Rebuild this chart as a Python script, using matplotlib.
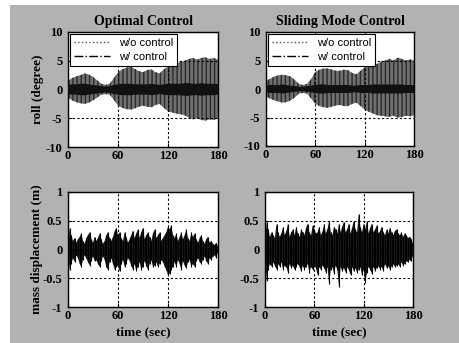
import numpy as np
import matplotlib
matplotlib.use("Agg")
import matplotlib.pyplot as plt
from matplotlib.patches import Rectangle
from matplotlib.lines import Line2D

# ---------------- data ----------------
t_env = list(range(0, 181, 5))
# roll envelopes (degree), Optimal Control
opt_wo_upper = [1.5, 2.0, 2.3, 2.5, 2.8, 2.6, 2.2, 1.6, 1.0, 0.8, 1.0, 2.0, 3.0, 3.5, 3.8, 4.0, 3.6, 3.2, 3.0,
                3.4, 3.5, 3.0, 2.8, 3.5, 4.0, 4.2, 4.5, 4.8, 5.0, 5.3, 5.5, 5.2, 5.5, 5.6, 5.3, 5.5, 5.2]
opt_wo_lower = [-1.4, -1.9, -2.2, -2.4, -2.5, -2.3, -1.9, -1.4, -0.9, -0.8, -0.9, -1.8, -2.8, -3.2, -3.4, -3.5, -3.3, -3.0, -2.8,
                -3.0, -3.1, -2.7, -2.5, -3.2, -3.8, -4.0, -4.2, -4.3, -4.5, -4.9, -5.2, -5.0, -5.3, -5.4, -5.2, -5.3, -5.0]
opt_w_upper = [0.8, 0.9, 0.9, 1.0, 1.0, 0.9, 0.8, 0.7, 0.6, 0.5, 0.6, 0.8, 0.9, 1.0, 1.0, 1.0, 0.9, 0.9, 0.9,
               0.9, 1.0, 0.9, 0.8, 0.9, 1.0, 1.0, 1.0, 1.0, 1.1, 1.1, 1.0, 1.0, 1.1, 1.0, 1.0, 1.0, 0.9]
opt_w_lower = [-0.8, -0.9, -0.9, -1.0, -1.0, -0.9, -0.8, -0.7, -0.6, -0.5, -0.6, -0.8, -0.9, -1.0, -1.0, -1.0, -0.9, -0.9, -0.9,
               -0.9, -1.0, -0.9, -0.8, -0.9, -1.0, -1.0, -1.0, -1.0, -1.1, -1.1, -1.0, -1.0, -1.1, -1.0, -1.0, -1.0, -0.9]
# roll envelopes (degree), Sliding Mode Control
smc_wo_upper = [1.4, 1.8, 2.2, 2.4, 2.5, 2.4, 2.2, 1.6, 0.9, 0.7, 0.9, 1.8, 3.0, 3.4, 3.6, 3.6, 3.4, 3.2, 3.2,
                3.4, 3.3, 2.8, 2.6, 3.2, 3.8, 4.0, 4.2, 4.4, 4.8, 5.0, 5.3, 5.0, 5.5, 5.3, 5.0, 5.2, 5.0]
smc_wo_lower = [-1.3, -1.7, -2.0, -2.2, -2.4, -2.3, -2.0, -1.5, -0.8, -0.7, -0.8, -1.7, -2.6, -3.0, -3.2, -3.3, -3.1, -2.9, -2.8,
                -3.0, -3.0, -2.6, -2.4, -3.0, -3.6, -4.0, -4.3, -4.6, -4.7, -4.8, -4.9, -4.7, -5.0, -4.9, -4.7, -4.8, -4.6]
smc_w_upper = [0.6, 0.7, 0.7, 0.7, 0.8, 0.7, 0.6, 0.5, 0.4, 0.4, 0.5, 0.6, 0.7, 0.8, 0.8, 0.7, 0.7, 0.7, 0.7,
               0.7, 0.7, 0.6, 0.6, 0.7, 0.7, 0.7, 0.8, 0.8, 0.8, 0.8, 0.8, 0.8, 0.8, 0.8, 0.7, 0.7, 0.7]
smc_w_lower = [-0.6, -0.7, -0.7, -0.7, -0.8, -0.7, -0.6, -0.5, -0.4, -0.4, -0.5, -0.6, -0.7, -0.8, -0.8, -0.7, -0.7, -0.7, -0.7,
               -0.7, -0.7, -0.6, -0.6, -0.7, -0.7, -0.7, -0.8, -0.8, -0.8, -0.8, -0.8, -0.8, -0.8, -0.8, -0.7, -0.7, -0.7]

# mass displacement (m), sampled every 2 s
t_mass = list(range(0, 181, 2))
opt_mass_upper = [0.05, 0.38, 0.25, 0.15, 0.20, 0.12, 0.18, 0.22, 0.28, 0.15, 0.10, 0.20, 0.25, 0.30, 0.18, 0.12,
                  0.22, 0.15, 0.20, 0.28, 0.18, 0.10, 0.15, 0.25, 0.30, 0.20, 0.15, 0.22, 0.32, 0.38, 0.25, 0.30,
                  0.20, 0.15, 0.30, 0.22, 0.12, 0.18, 0.25, 0.33, 0.20, 0.28, 0.35, 0.20, 0.30, 0.38, 0.18, 0.25,
                  0.30, 0.22, 0.15, 0.28, 0.35, 0.20, 0.25, 0.30, 0.15, 0.20, 0.25, 0.30, 0.40, 0.35, 0.42, 0.25,
                  0.20, 0.28, 0.15, 0.22, 0.30, 0.18, 0.25, 0.35, 0.20, 0.15, 0.30, 0.22, 0.28, 0.18, 0.12, 0.20,
                  0.25, 0.15, 0.10, 0.18, 0.22, 0.12, 0.15, 0.10, 0.08, 0.12, 0.05]
opt_mass_lower = [-0.05, -0.35, -0.25, -0.15, -0.22, -0.10, -0.15, -0.25, -0.30, -0.18, -0.10, -0.15, -0.22, -0.28, -0.20, -0.12,
                  -0.20, -0.18, -0.25, -0.30, -0.20, -0.12, -0.18, -0.30, -0.35, -0.22, -0.15, -0.25, -0.35, -0.30, -0.28, -0.38,
                  -0.25, -0.18, -0.30, -0.25, -0.15, -0.20, -0.28, -0.35, -0.25, -0.38, -0.30, -0.22, -0.35, -0.30, -0.20, -0.28,
                  -0.35, -0.25, -0.18, -0.30, -0.28, -0.22, -0.30, -0.25, -0.18, -0.22, -0.30, -0.35, -0.45, -0.42, -0.35, -0.30,
                  -0.22, -0.30, -0.18, -0.25, -0.35, -0.20, -0.28, -0.32, -0.22, -0.18, -0.30, -0.25, -0.30, -0.20, -0.15, -0.22,
                  -0.25, -0.18, -0.12, -0.20, -0.25, -0.15, -0.18, -0.12, -0.10, -0.15, -0.05]
smc_mass_upper = [0.10, 0.48, 0.35, 0.22, 0.30, 0.25, 0.20, 0.45, 0.30, 0.22, 0.28, 0.40, 0.25, 0.32, 0.45, 0.22,
                  0.30, 0.35, 0.25, 0.40, 0.28, 0.22, 0.35, 0.30, 0.25, 0.38, 0.45, 0.30, 0.25, 0.42, 0.35, 0.28,
                  0.30, 0.40, 0.25, 0.32, 0.45, 0.28, 0.35, 0.50, 0.30, 0.25, 0.40, 0.35, 0.28, 0.45, 0.30, 0.40,
                  0.48, 0.30, 0.35, 0.45, 0.28, 0.38, 0.50, 0.35, 0.30, 0.62, 0.40, 0.30, 0.45, 0.35, 0.50, 0.28,
                  0.38, 0.45, 0.30, 0.35, 0.42, 0.28, 0.32, 0.40, 0.30, 0.25, 0.35, 0.28, 0.38, 0.30, 0.25, 0.32,
                  0.35, 0.28, 0.25, 0.30, 0.22, 0.28, 0.25, 0.20, 0.22, 0.18, 0.10]
smc_mass_lower = [-0.10, -0.55, -0.35, -0.25, -0.30, -0.22, -0.28, -0.35, -0.25, -0.30, -0.22, -0.35, -0.28, -0.30, -0.40, -0.25,
                  -0.32, -0.28, -0.35, -0.30, -0.25, -0.30, -0.38, -0.28, -0.35, -0.30, -0.25, -0.40, -0.30, -0.35, -0.28, -0.32,
                  -0.45, -0.30, -0.35, -0.28, -0.32, -0.40, -0.30, -0.60, -0.35, -0.30, -0.42, -0.28, -0.35, -0.65, -0.30, -0.38,
                  -0.32, -0.40, -0.30, -0.35, -0.45, -0.30, -0.38, -0.32, -0.40, -0.35, -0.30, -0.45, -0.35, -0.58, -0.40, -0.30,
                  -0.35, -0.42, -0.30, -0.38, -0.32, -0.28, -0.35, -0.30, -0.38, -0.25, -0.32, -0.28, -0.35, -0.30, -0.25, -0.30,
                  -0.28, -0.25, -0.30, -0.22, -0.28, -0.25, -0.20, -0.22, -0.18, -0.20, -0.10]

titles = ["Optimal Control", "Sliding Mode Control"]
legend_labels = ["w/o control", "w/ control"]
xticks = [0, 60, 120, 180]
roll_ticks = [-10, -5, 0, 5, 10]
mass_ticks = [-1, -0.5, 0, 0.5, 1]
mass_ticklabels = ["-1", "-0.5", "0", "0.5", "1"]

# ---------------- figure ----------------
W, H = 459, 343
fig = plt.figure(figsize=(W / 100, H / 100), dpi=100, facecolor="white")
fig.patches.append(Rectangle((10 / W, 0), 1 - 10 / W, 1 - 5 / H, transform=fig.transFigure,
                             facecolor="#b2b2b2", edgecolor="none", zorder=-10))

serif = "Liberation Serif"
tick_font = dict(family=serif, weight="bold", size=9)

def px_axes(x0, y0, x1, y1):
    return fig.add_axes([x0 / W, 1 - y1 / H, (x1 - x0) / W, (y1 - y0) / H])

ax_tl = px_axes(68, 32, 218, 147)
ax_tr = px_axes(266, 32, 414, 146)
ax_bl = px_axes(68, 192, 218, 307)
ax_br = px_axes(265, 192, 413, 307)

def style(ax, yticks, yticklabels):
    ax.set_facecolor("white")
    ax.set_xlim(0, 180)
    ax.set_ylim(yticks[0], yticks[-1])
    ax.set_xticks(xticks)
    ax.set_yticks(yticks)
    ax.set_xticklabels([str(v) for v in xticks], **tick_font)
    ax.set_yticklabels(yticklabels, **tick_font)
    ax.tick_params(direction="in", length=3, width=0.8, colors="black")
    ax.tick_params(axis="x", pad=2)
    ax.tick_params(axis="y", pad=4)
    ax.grid(True, color="black", linestyle=(0, (2, 2)), linewidth=0.8)
    ax.set_axisbelow(False)
    for s in ax.spines.values():
        s.set_linewidth(1.0)
        s.set_color("black")

for ax, title, wo_u, wo_l, w_u, w_l in [
    (ax_tl, titles[0], opt_wo_upper, opt_wo_lower, opt_w_upper, opt_w_lower),
    (ax_tr, titles[1], smc_wo_upper, smc_wo_lower, smc_w_upper, smc_w_lower),
]:
    ax.fill_between(t_env, wo_l, wo_u, facecolor="#707070", edgecolor="#2a2a2a",
                    hatch="||||", linewidth=0, zorder=2)
    ax.fill_between(t_env, w_l, w_u, facecolor="#111111", edgecolor="none", zorder=3)
    style(ax, roll_ticks, [str(v) for v in roll_ticks])
    ax.set_title(title, family=serif, weight="bold", size=10, pad=5)
    handles = [Line2D([], [], color="#555555", linestyle=":", linewidth=1.0),
               Line2D([], [], color="black", linestyle="-.", linewidth=1.0)]
    leg = ax.legend(handles, legend_labels, loc="upper left", prop=dict(family="Liberation Sans", size=8),
                    frameon=True, fancybox=False, edgecolor="black", framealpha=1,
                    borderaxespad=0.2, handlelength=3.2, borderpad=0.35, labelspacing=0.35)
    leg.get_frame().set_linewidth(0.8)
    leg.set_zorder(10)

ax_tl.set_ylabel("roll (degree)", family=serif, weight="bold", size=9.5, labelpad=1)

for ax, up, lo in [(ax_bl, opt_mass_upper, opt_mass_lower), (ax_br, smc_mass_upper, smc_mass_lower)]:
    ax.fill_between(t_mass, lo, up, facecolor="#1a1a1a", edgecolor="none", zorder=2)
    ax.vlines(t_mass, lo, up, color="black", linewidth=0.8, zorder=3)
    style(ax, mass_ticks, mass_ticklabels)
    ax.set_xlabel("time (sec)", family=serif, weight="bold", size=9.5, labelpad=3)

ax_bl.set_ylabel("mass displacement (m)", family=serif, weight="bold", size=9.5, labelpad=0)

fig.savefig("out.png", dpi=100, facecolor="white")
